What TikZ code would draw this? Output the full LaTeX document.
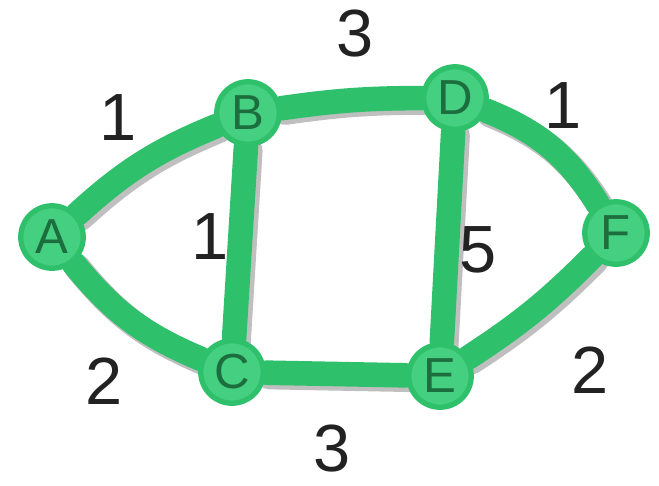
\documentclass[tikz,border=0pt]{standalone}
\usepackage{fontspec}
\setsansfont{Liberation Sans}
\usetikzlibrary{backgrounds}

\definecolor{roadgreen}{HTML}{2FC06C}
\definecolor{townfill}{HTML}{45CF80}
\definecolor{townink}{HTML}{1D6E3E}
\definecolor{weightink}{HTML}{222222}

\tikzset{
  town/.style={circle, fill=townfill, draw=roadgreen, line width=3pt,
    minimum size=1.25cm, inner sep=0pt, text=townink,
    font=\fontsize{28}{30}\sffamily},
  road/.style={draw=roadgreen, line width=14pt, line cap=round},
  roadshadow/.style={draw=black!25, line width=15pt, line cap=round,
    transform canvas={xshift=2pt,yshift=-2pt}},
  weight/.style={text=weightink, font=\fontsize{38}{40}\sffamily}
}

\begin{document}
\begin{tikzpicture}[x=0.02cm, y=-0.02cm]
        \useasboundingbox (0,0) rectangle (659,485);

        \node[town] (A) at (52,237) {A};
        \node[town] (B) at (248,113) {B};
        \node[town] (C) at (232,372) {C};
        \node[town] (D) at (455,98) {D};
        \node[town] (E) at (440,376) {E};
        \node[town] (F) at (616,233) {F};

        \node[weight] (wab) at (118,118) {1};
        \node[weight] (wbd) at (355,34) {3};
        \node[weight] (wdf) at (563,106) {1};
        \node[weight] (wbc) at (210,237) {1};
        \node[weight] (wde) at (478,250) {5};
        \node[weight] (wac) at (104,381) {2};
        \node[weight] (wce) at (332,449) {3};
        \node[weight] (wef) at (590,370) {2};

        \begin{scope}[on background layer]
          \path[roadshadow] (A) edge[bend left=10] (B)
                            (A) edge[bend right=14] (C)
                            (B) edge[bend left=4] (D)
                            (B) edge (C)
                            (D) edge (E)
                            (C) edge (E)
                            (D) edge[bend left=18] (F)
                            (E) edge[bend right=6] (F);
          \path[road] (A) edge[bend left=10] (B)
                      (A) edge[bend right=14] (C)
                      (B) edge[bend left=4] (D)
                      (B) edge (C)
                      (D) edge (E)
                      (C) edge (E)
                      (D) edge[bend left=18] (F)
                      (E) edge[bend right=6] (F);
        \end{scope}
\end{tikzpicture}
\end{document}
